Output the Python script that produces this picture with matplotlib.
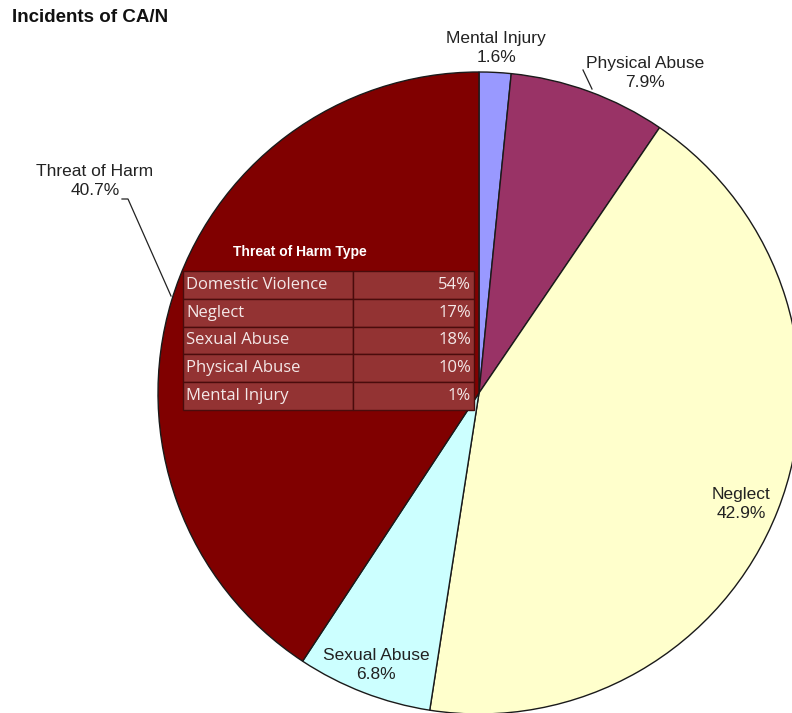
import matplotlib
matplotlib.use("Agg")
import matplotlib.pyplot as plt
from matplotlib.patches import Rectangle

# Data
categories = ["Mental Injury", "Physical Abuse", "Neglect", "Sexual Abuse", "Threat of Harm"]
values = [1.6, 7.9, 42.9, 6.8, 40.7]
colors = ["#9999FF", "#993366", "#FFFFCC", "#CCFFFF", "#800000"]

harm_types = ["Domestic Violence", "Neglect", "Sexual Abuse", "Physical Abuse", "Mental Injury"]
harm_pcts = [54, 17, 18, 10, 1]

W, H = 792, 713
fig = plt.figure(figsize=(W / 100, H / 100), dpi=100)
ax = fig.add_axes([0, 0, 1, 1])
ax.set_xlim(0, W)
ax.set_ylim(0, H)
ax.set_aspect("equal")
ax.axis("off")

cx, cy, R = 479, H - 393, 321
ax.pie(values, colors=colors, startangle=90, counterclock=False,
       center=(cx, cy), radius=R, frame=True,
       wedgeprops=dict(edgecolor="#1a1a1a", linewidth=1.0))
ax.set_xlim(0, W)
ax.set_ylim(0, H)
ax.axis("off")

lab_font = dict(family="Liberation Sans", fontsize=12.5, color="#222222",
                ha="center", va="center", linespacing=1.4)
label_pos = {
    "Mental Injury": (496, 48),
    "Physical Abuse": (645, 73),
    "Neglect": (741, 504),
    "Sexual Abuse": (376, 665),
    "Threat of Harm": (95, 181),
}
for name, v in zip(categories, values):
    x, y = label_pos[name]
    ax.text(x, H - y, f"{name}\n{v}%", **lab_font)

# leader lines
ax.plot([122, 128, 171], [H - 199, H - 199, H - 296], color="#222222", lw=0.9)
ax.plot([583, 592], [H - 70, H - 89], color="#222222", lw=0.9)

# Title
ax.text(12, H - 17, "Incidents of CA/N", family="Liberation Sans", fontsize=13.5,
        fontweight="bold", ha="left", va="center", color="#111111")

# Inner table
tx0, tx1, tdiv = 183, 474, 353
ty0, rh = 271, 27.8
ax.text(300, H - 252, "Threat of Harm Type", family="Liberation Sans",
        fontsize=10, fontweight="bold", color="white", ha="center", va="center")
for i, (name, p) in enumerate(zip(harm_types, harm_pcts)):
    ytop = ty0 + i * rh
    for xa, xb in [(tx0, tdiv), (tdiv, tx1)]:
        ax.add_patch(Rectangle((xa, H - ytop - rh), xb - xa, rh,
                               facecolor="#933333", edgecolor="#4a0c0c", lw=1.0, zorder=3))
    ax.text(tx0 + 3, H - ytop - rh / 2, name, family="Open Sans", fontsize=12,
            color="#f4e8e8", ha="left", va="center", zorder=4)
    ax.text(tx1 - 3, H - ytop - rh / 2, f"{p}%", family="Open Sans", fontsize=12,
            color="#f4e8e8", ha="right", va="center", zorder=4)

fig.savefig("out.png", dpi=100)
